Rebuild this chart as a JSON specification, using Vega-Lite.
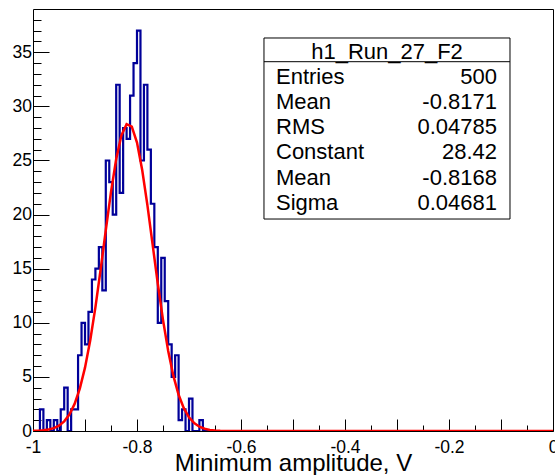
{
  "$schema": "https://vega.github.io/schema/vega-lite/v6.json",
  "width": 520,
  "height": 422,
  "autosize": {"type": "none"},
  "padding": {"left": 33, "top": 9, "right": 2, "bottom": 44},
  "background": "white",
  "config": {
    "view": {"stroke": "black", "strokeWidth": 1},
    "font": "Liberation Sans",
    "axis": {"grid": false, "domain": false, "tickColor": "black", "tickWidth": 1, "labelColor": "black", "titleColor": "black", "labelFont": "Liberation Sans", "titleFont": "Liberation Sans"}
  },
  "datasets": {
    "hist": [
      {"x":-0.99667,"n":0},{"x":-0.99,"n":0},{"x":-0.98333,"n":2},{"x":-0.97667,"n":0},{"x":-0.97,"n":1},{"x":-0.96333,"n":0},{"x":-0.95667,"n":1},{"x":-0.95,"n":0},{"x":-0.94333,"n":2},{"x":-0.93667,"n":4},
      {"x":-0.93,"n":0},{"x":-0.92333,"n":2},{"x":-0.91667,"n":2},{"x":-0.91,"n":7},{"x":-0.90333,"n":10},{"x":-0.89667,"n":8},{"x":-0.89,"n":11},{"x":-0.88333,"n":14},{"x":-0.87667,"n":15},{"x":-0.87,"n":17},
      {"x":-0.86333,"n":13},{"x":-0.85667,"n":25},{"x":-0.85,"n":23},{"x":-0.84333,"n":20},{"x":-0.83667,"n":32},{"x":-0.83,"n":22},{"x":-0.82333,"n":28},{"x":-0.81667,"n":27},{"x":-0.81,"n":31},{"x":-0.80333,"n":34},
      {"x":-0.79667,"n":37},{"x":-0.79,"n":25},{"x":-0.78333,"n":32},{"x":-0.77667,"n":26},{"x":-0.77,"n":21},{"x":-0.76333,"n":17},{"x":-0.75667,"n":10},{"x":-0.75,"n":16},{"x":-0.74333,"n":12},{"x":-0.73667,"n":8},
      {"x":-0.73,"n":5},{"x":-0.72333,"n":7},{"x":-0.71667,"n":1},{"x":-0.71,"n":2},{"x":-0.70333,"n":0},{"x":-0.69667,"n":3},{"x":-0.69,"n":0},{"x":-0.68333,"n":0},{"x":-0.67667,"n":1},{"x":-0.67,"n":0},
      {"x":-0.66333,"n":0},{"x":-0.65667,"n":0},{"x":-0.65,"n":0},{"x":-0.64333,"n":0},{"x":-0.63667,"n":0},{"x":-0.63,"n":0},{"x":-0.62333,"n":0},{"x":-0.61667,"n":0},{"x":-0.61,"n":0},{"x":-0.60333,"n":0},
      {"x":-0.59667,"n":0},{"x":-0.59,"n":0},{"x":-0.58333,"n":0},{"x":-0.57667,"n":0},{"x":-0.57,"n":0},{"x":-0.56333,"n":0},{"x":-0.55667,"n":0},{"x":-0.55,"n":0},{"x":-0.54333,"n":0},{"x":-0.53667,"n":0},
      {"x":-0.53,"n":0},{"x":-0.52333,"n":0},{"x":-0.51667,"n":0},{"x":-0.51,"n":0},{"x":-0.50333,"n":0},{"x":-0.49667,"n":0},{"x":-0.49,"n":0},{"x":-0.48333,"n":0},{"x":-0.47667,"n":0},{"x":-0.47,"n":0},
      {"x":-0.46333,"n":0},{"x":-0.45667,"n":0},{"x":-0.45,"n":0},{"x":-0.44333,"n":0},{"x":-0.43667,"n":0},{"x":-0.43,"n":0},{"x":-0.42333,"n":0},{"x":-0.41667,"n":0},{"x":-0.41,"n":0},{"x":-0.40333,"n":0},
      {"x":-0.39667,"n":0},{"x":-0.39,"n":0},{"x":-0.38333,"n":0},{"x":-0.37667,"n":0},{"x":-0.37,"n":0},{"x":-0.36333,"n":0},{"x":-0.35667,"n":0},{"x":-0.35,"n":0},{"x":-0.34333,"n":0},{"x":-0.33667,"n":0},
      {"x":-0.33,"n":0},{"x":-0.32333,"n":0},{"x":-0.31667,"n":0},{"x":-0.31,"n":0},{"x":-0.30333,"n":0},{"x":-0.29667,"n":0},{"x":-0.29,"n":0},{"x":-0.28333,"n":0},{"x":-0.27667,"n":0},{"x":-0.27,"n":0},
      {"x":-0.26333,"n":0},{"x":-0.25667,"n":0},{"x":-0.25,"n":0},{"x":-0.24333,"n":0},{"x":-0.23667,"n":0},{"x":-0.23,"n":0},{"x":-0.22333,"n":0},{"x":-0.21667,"n":0},{"x":-0.21,"n":0},{"x":-0.20333,"n":0},
      {"x":-0.19667,"n":0},{"x":-0.19,"n":0},{"x":-0.18333,"n":0},{"x":-0.17667,"n":0},{"x":-0.17,"n":0},{"x":-0.16333,"n":0},{"x":-0.15667,"n":0},{"x":-0.15,"n":0},{"x":-0.14333,"n":0},{"x":-0.13667,"n":0},
      {"x":-0.13,"n":0},{"x":-0.12333,"n":0},{"x":-0.11667,"n":0},{"x":-0.11,"n":0},{"x":-0.10333,"n":0},{"x":-0.09667,"n":0},{"x":-0.09,"n":0},{"x":-0.08333,"n":0},{"x":-0.07667,"n":0},{"x":-0.07,"n":0},
      {"x":-0.06333,"n":0},{"x":-0.05667,"n":0},{"x":-0.05,"n":0},{"x":-0.04333,"n":0},{"x":-0.03667,"n":0},{"x":-0.03,"n":0},{"x":-0.02333,"n":0},{"x":-0.01667,"n":0},{"x":-0.01,"n":0},{"x":-0.00333,"n":0}
    ],
    "fit": [
      {"x":-1.0,"y":0.013},{"x":-0.99,"y":0.030},{"x":-0.98,"y":0.065},{"x":-0.97,"y":0.134},{"x":-0.96,"y":0.264},{"x":-0.95,"y":0.496},{"x":-0.94,"y":0.890},{"x":-0.93,"y":1.526},{"x":-0.92,"y":2.502},{"x":-0.91,"y":3.916},
      {"x":-0.90,"y":5.857},{"x":-0.89,"y":8.367},{"x":-0.88,"y":11.42},{"x":-0.87,"y":14.90},{"x":-0.86,"y":18.56},{"x":-0.85,"y":22.10},{"x":-0.84,"y":25.13},{"x":-0.83,"y":27.31},{"x":-0.82,"y":28.35},{"x":-0.81,"y":28.12},
      {"x":-0.80,"y":26.65},{"x":-0.79,"y":24.12},{"x":-0.78,"y":20.87},{"x":-0.77,"y":17.24},{"x":-0.76,"y":13.61},{"x":-0.75,"y":10.27},{"x":-0.74,"y":7.398},{"x":-0.73,"y":5.093},{"x":-0.72,"y":3.351},{"x":-0.71,"y":2.105},
      {"x":-0.70,"y":1.264},{"x":-0.69,"y":0.725},{"x":-0.68,"y":0.397},{"x":-0.67,"y":0.208},{"x":-0.66,"y":0.104},{"x":-0.65,"y":0.050},{"x":-0.64,"y":0.023},{"x":-0.63,"y":0.010},{"x":-0.62,"y":0.004},{"x":0.0,"y":0.0}
    ],
    "stats": [
      {"i":1,"name":"Entries","value":"500"},
      {"i":2,"name":"Mean","value":"-0.8171"},
      {"i":3,"name":"RMS","value":"0.04785"},
      {"i":4,"name":"Constant","value":"28.42"},
      {"i":5,"name":"Mean","value":"-0.8168"},
      {"i":6,"name":"Sigma","value":"0.04681"}
    ]
  },
  "layer": [
    {
      "layer": [
        {
          "data": {"name": "hist"},
          "mark": {"type": "line", "interpolate": "step", "color": "#000099", "strokeWidth": 2.2, "clip": true},
          "encoding": {
            "x": {"field": "x", "type": "quantitative", "scale": {"domain": [-1, 0], "nice": false, "zero": false},
              "axis": {"orient": "bottom", "values": [-1, -0.9, -0.8, -0.7, -0.6, -0.5, -0.4, -0.3, -0.2, -0.1, 0], "format": "~g", "tickSize": -12, "labelPadding": 19, "labelFontSize": 17.5, "labelBaseline": "top", "labelFlush": false, "labelExpr": "(abs(round(datum.value*10)) % 2 == 1) ? '' : replace(datum.label, '\u2212', '-')", "title": "Minimum amplitude, V", "titleFontSize": 24, "titleFontWeight": "normal", "titleBaseline": "alphabetic", "titleY": 39}},
            "y": {"field": "n", "type": "quantitative", "scale": {"domain": [0, 39], "nice": false, "zero": false},
              "axis": {"orient": "left", "values": [0, 5, 10, 15, 20, 25, 30, 35], "tickSize": -16, "labelPadding": 17.5, "labelFontSize": 17.5, "labelBaseline": "middle", "labelFlush": false, "title": null}}
          }
        },
        {
          "data": {"name": "fit"},
          "mark": {"type": "line", "color": "#ff0000", "strokeWidth": 2.5, "clip": true},
          "encoding": {
            "x": {"field": "x", "type": "quantitative", "scale": {"domain": [-1, 0], "nice": false, "zero": false},
              "axis": {"orient": "bottom", "values": [-0.95, -0.85, -0.75, -0.65, -0.55, -0.45, -0.35, -0.25, -0.15, -0.05], "tickSize": -6, "labels": false, "title": null}},
            "y": {"field": "y", "type": "quantitative", "scale": {"domain": [0, 39], "nice": false, "zero": false},
              "axis": {"orient": "left", "values": [1, 2, 3, 4, 6, 7, 8, 9, 11, 12, 13, 14, 16, 17, 18, 19, 21, 22, 23, 24, 26, 27, 28, 29, 31, 32, 33, 34, 36, 37, 38], "tickSize": -8, "labels": false, "title": null}}
          }
        }
      ],
      "resolve": {"axis": {"x": "independent", "y": "independent"}}
    },
    {
      "layer": [
        {
          "data": {"values": [{"box": "stats"}]},
          "mark": {"type": "rect", "fill": "white", "stroke": "black", "strokeWidth": 1},
          "encoding": {
            "x": {"datum": -0.5558, "type": "quantitative", "scale": {"domain": [-1, 0], "nice": false, "zero": false}, "axis": null},
            "x2": {"datum": -0.0827},
            "y": {"datum": -0.545, "type": "quantitative", "scale": {"domain": [-1.697, 15.07], "nice": false, "zero": false, "reverse": true}, "axis": null},
            "y2": {"datum": 6.648}
          }
        },
        {
          "data": {"values": [{"box": "stats"}]},
          "mark": {"type": "rule", "color": "black", "strokeWidth": 1},
          "encoding": {
            "x": {"datum": -0.5558, "type": "quantitative", "axis": null},
            "x2": {"datum": -0.0827},
            "y": {"datum": 0.397, "type": "quantitative", "axis": null}
          }
        },
        {
          "data": {"values": [{"title": "h1_Run_27_F2"}]},
          "mark": {"type": "text", "fontSize": 22, "font": "Liberation Sans", "align": "center", "baseline": "middle", "color": "black"},
          "encoding": {
            "x": {"datum": -0.3192, "type": "quantitative", "axis": null},
            "y": {"datum": 0, "type": "quantitative", "axis": null},
            "text": {"field": "title"}
          }
        },
        {
          "data": {"name": "stats"},
          "mark": {"type": "text", "fontSize": 22, "font": "Liberation Sans", "align": "left", "baseline": "middle", "color": "black"},
          "encoding": {
            "x": {"datum": -0.5327, "type": "quantitative", "axis": null},
            "y": {"field": "i", "type": "quantitative", "axis": null},
            "text": {"field": "name"}
          }
        },
        {
          "data": {"name": "stats"},
          "mark": {"type": "text", "fontSize": 22, "font": "Liberation Sans", "align": "right", "baseline": "middle", "color": "black"},
          "encoding": {
            "x": {"datum": -0.1077, "type": "quantitative", "axis": null},
            "y": {"field": "i", "type": "quantitative", "axis": null},
            "text": {"field": "value"}
          }
        }
      ]
    }
  ],
  "resolve": {"scale": {"y": "independent"}, "axis": {"x": "independent", "y": "independent"}}
}
